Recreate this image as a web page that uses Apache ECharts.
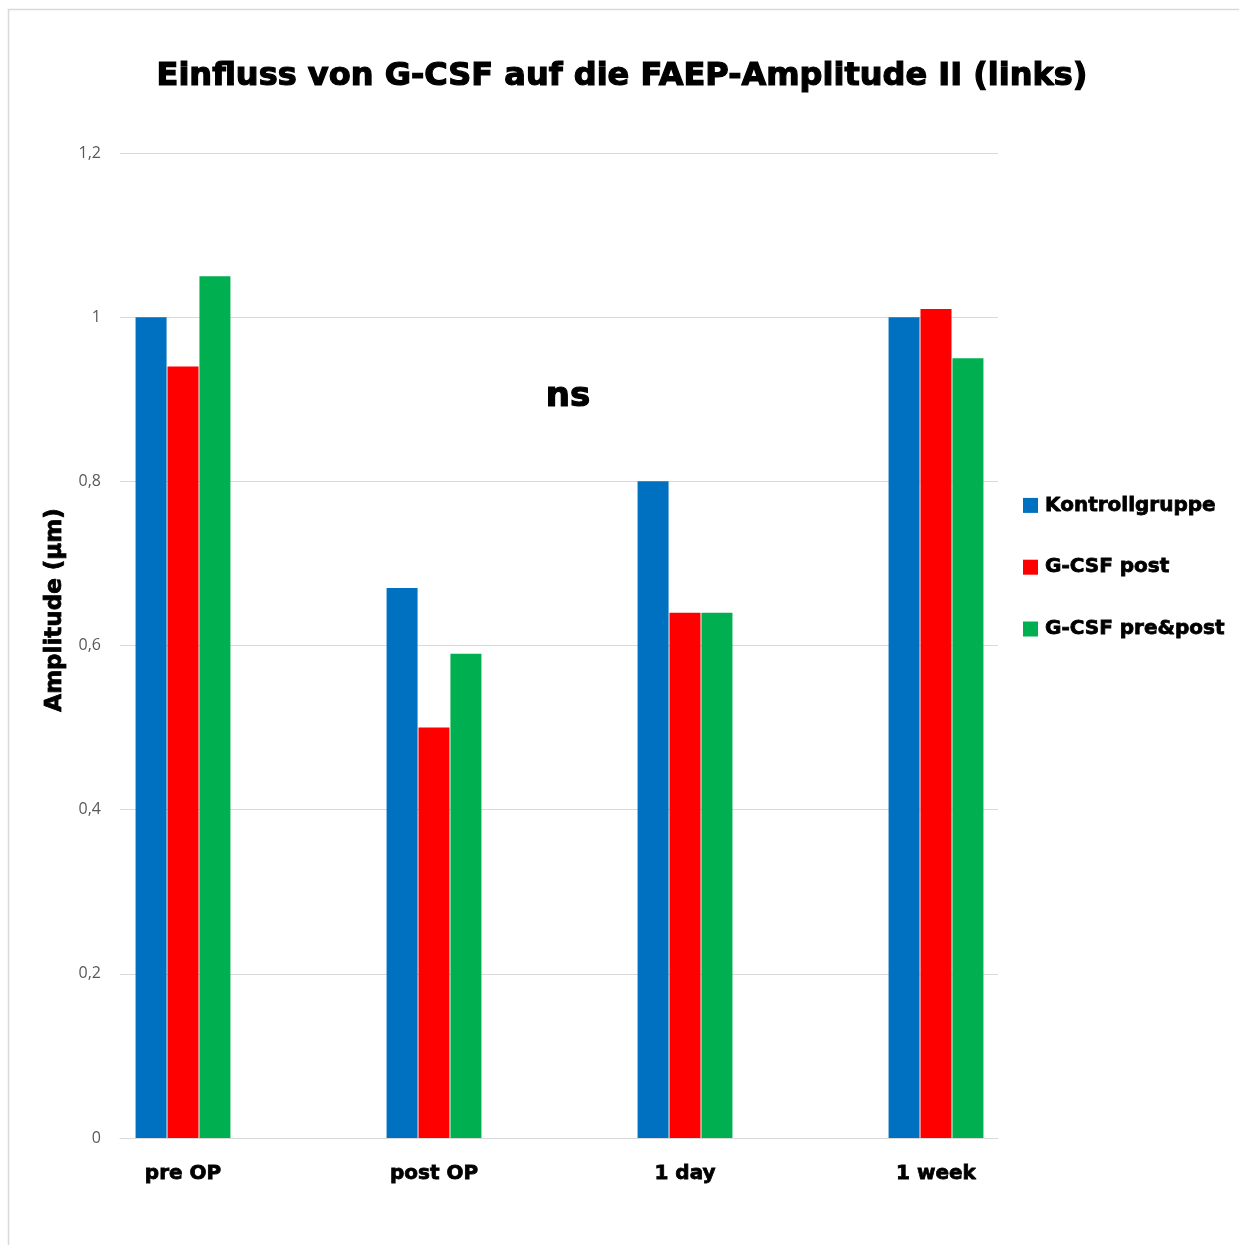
<!DOCTYPE html>
<html>
<head>
<meta charset="utf-8">
<script src="https://cdn.jsdelivr.net/npm/echarts@6/dist/echarts.min.js"></script>
<style>
  html, body { margin: 0; padding: 0; background: #fff; }
  #chart { width: 1239px; height: 1245px; }
</style>
</head>
<body>
<div id="chart"></div>
<script>
// Time points and mean amplitudes per group
const categories = ['pre OP', 'post OP', '1 day', '1 week'];
const kontrollgruppe = [1.00, 0.67, 0.80, 1.00];
const gcsfPost = [0.94, 0.50, 0.64, 1.01];
const gcsfPrePost = [1.05, 0.59, 0.64, 0.95];
const yTicks = [0, 0.2, 0.4, 0.6, 0.8, 1, 1.2];

const seriesNames = ['Kontrollgruppe', 'G-CSF post', 'G-CSF pre&post'];
const seriesColors = ['#0070C0', '#FF0000', '#00B050'];
const seriesValues = [kontrollgruppe, gcsfPost, gcsfPrePost];

const chart = echarts.init(document.getElementById('chart'), null, { renderer: 'canvas' });

const boldFont = 'DejaVu Sans';
// a thin outline in the text colour makes the bold face a bit heavier
const heavy = { textBorderColor: '#000', textBorderWidth: 0.8 };

chart.setOption({
  backgroundColor: '#ffffff',
  animation: false,
  title: {
    text: 'Einfluss von G-CSF auf die FAEP-Amplitude II (links)',
    left: 617,
    textAlign: 'center',
    top: 56,
    textStyle: Object.assign({ fontFamily: boldFont, fontWeight: 'bold', fontSize: 32, color: '#000' }, { textBorderColor: '#000', textBorderWidth: 1.2 })
  },
  legend: {
    orient: 'vertical',
    left: 1018,
    top: 490,
    itemWidth: 15,
    itemHeight: 15,
    itemGap: 41,
    icon: 'rect',
    data: seriesNames,
    textStyle: Object.assign({ fontFamily: boldFont, fontWeight: 'bold', fontSize: 20, color: '#000', padding: [0, 0, 0, 2] }, heavy)
  },
  grid: [
    // grid carrying the value axis and the grid lines
    { left: 120, width: 878, top: 153, height: 985 },
    // grid carrying the category axis and the bars
    { left: 57.5, width: 1004, top: 153, height: 985 }
  ],
  xAxis: [
    {
      gridIndex: 0, type: 'value', min: 0, max: 1,
      axisLine: { show: true, lineStyle: { color: '#d9d9d9', width: 1 } },
      axisTick: { show: false }, axisLabel: { show: false }, splitLine: { show: false }
    },
    {
      gridIndex: 1, type: 'category', data: categories,
      axisLine: { show: false }, axisTick: { show: false },
      axisLabel: Object.assign({ margin: 26, fontFamily: boldFont, fontWeight: 'bold', fontSize: 20, color: '#000' }, heavy)
    }
  ],
  yAxis: [
    {
      gridIndex: 0, type: 'value', min: 0, max: 1.2, interval: 0.2,
      axisLine: { show: false }, axisTick: { show: false },
      axisLabel: {
        margin: 19, fontFamily: 'Open Sans', fontSize: 16, color: '#595959',
        formatter: v => {
          const t = yTicks.find(x => Math.abs(x - v) < 1e-9);
          return String(t !== undefined ? t : v).replace('.', ',');
        }
      },
      splitLine: { lineStyle: { color: '#d9d9d9', width: 1 } }
    },
    {
      gridIndex: 1, type: 'value', min: 0, max: 1.2, interval: 0.2, show: false,
      splitLine: { show: false }
    }
  ],
  series: seriesNames.map((name, i) => ({
    name,
    type: 'bar',
    xAxisIndex: 1,
    yAxisIndex: 1,
    data: seriesValues[i],
    barWidth: 31,
    barGap: '3%',
    itemStyle: { color: seriesColors[i] }
  })),
  graphic: [
    {
      type: 'rect',
      shape: { x: 8.5, y: 9.5, width: 1400, height: 1400 },
      style: { fill: 'none', stroke: '#d9d9d9', lineWidth: 1.5 },
      silent: true
    },
    {
      type: 'text',
      x: 55, y: 610,
      rotation: Math.PI / 2,
      style: Object.assign({
        text: 'Amplitude (µm)', fontFamily: boldFont, fontWeight: 'bold', fontSize: 23, fill: '#000',
        align: 'center', verticalAlign: 'middle'
      }, { stroke: '#000', lineWidth: 0.8 })
    },
    {
      type: 'text',
      x: 568, y: 397,
      style: Object.assign({
        text: 'ns', fontFamily: boldFont, fontWeight: 'bold', fontSize: 34, fill: '#000',
        align: 'center', verticalAlign: 'middle'
      }, { stroke: '#000', lineWidth: 1.2 })
    }
  ]
});
</script>
</body>
</html>
